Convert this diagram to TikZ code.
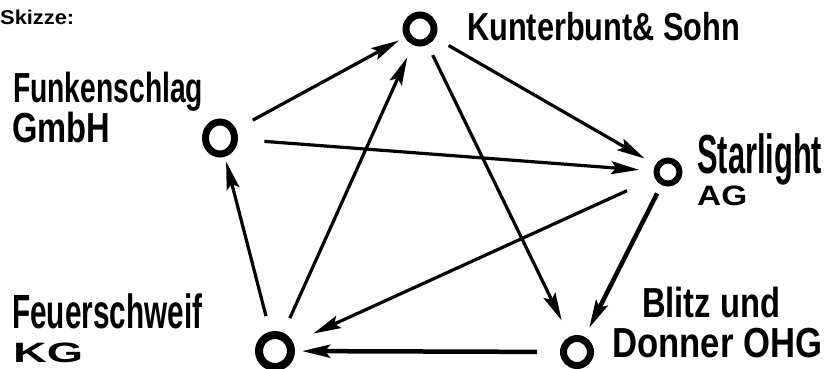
\documentclass[tikz,border=0pt]{standalone}
\usepackage{fontspec}
\usepackage{graphicx}
\usetikzlibrary{arrows.meta,shapes.geometric}
\newfontfamily\handfont{Liberation Sans}
\newfontfamily\skfont{Liberation Sans}
\newcommand\lbl[3]{\fontsize{#1}{#1}\selectfont\resizebox{#2}{\height}{#3}}
\tikzset{
  ring/.style={draw, ellipse, line width=7pt, outer sep=0pt, inner sep=0pt},
  arr/.style={line width=3.2pt, -{Stealth[length=28pt,width=13pt,inset=5pt]}},
  thickarr/.style={arr, line width=4.5pt},
  lab/.style={anchor=base west, inner sep=0pt, font=\handfont\bfseries},
}
\begin{document}
\begin{tikzpicture}[x=1pt,y=-1pt]
\useasboundingbox[fill=white] (0,0) rectangle (827,368);
% circles
\node[ring, minimum width=28pt, minimum height=28pt] (K) at (420,29) {};
\node[ring, minimum width=29pt, minimum height=32pt] (F) at (220,138) {};
\node[ring, line width=6pt, minimum width=23pt, minimum height=23pt] (S) at (668,172) {};
\node[ring, line width=8pt, minimum width=32pt, minimum height=32pt] (Fe) at (275,351) {};
\node[ring, minimum width=27pt, minimum height=27pt] (B) at (577,352) {};
% labels
\node[lab] (tK) at (467,40) {\lbl{39}{273pt}{Kunterbunt\& Sohn}};
\node[lab] (tF1) at (13,102) {\lbl{42}{190pt}{Funkenschlag}};
\node[lab] (tF2) at (12,142) {\lbl{42}{98pt}{GmbH}};
\node[lab] (tS1) at (697,173) {\lbl{55}{125pt}{Starlight}};
\node[lab] (tS2) at (697,205) {\lbl{28}{50pt}{AG}};
\node[lab] (tFe1) at (12,328) {\lbl{48}{190pt}{Feuerschweif}};
\node[lab] (tFe2) at (13,362) {\lbl{28}{70pt}{KG}};
\node[lab] (tB1) at (642,317) {\lbl{42}{138pt}{Blitz und}};
\node[lab] (tB2) at (612,357) {\lbl{42}{210pt}{Donner OHG}};
\node[anchor=base west, inner sep=0pt, font=\skfont\bfseries] (sk) at (0,24) {\fontsize{20}{20}\selectfont\resizebox{74pt}{\height}{Skizze:}};
% connectors
\draw[arr, shorten <=22.5pt, shorten >=10pt] (F) -- (K);
\draw[arr, shorten <=19pt, shorten >=15.5pt] (K) -- (S);
\draw[arr, shorten <=30pt, shorten >=17.5pt] (F) -- (S);
\draw[arr, shorten <=15pt, shorten >=21.5pt] (K) -- (B);
\draw[thickarr, shorten <=12.5pt, shorten >=13.5pt] (S) -- (B);
\draw[arr, shorten <=33.5pt, shorten >=26pt] (S) -- (Fe);
\draw[thickarr, shorten <=26.5pt, shorten >=11pt] (B) -- (Fe);
\draw[arr, shorten <=20pt, shorten >=8.5pt] (Fe) -- (F);
\draw[arr, shorten <=20pt, shorten >=17pt] (Fe) -- (K);
\end{tikzpicture}
\end{document}
